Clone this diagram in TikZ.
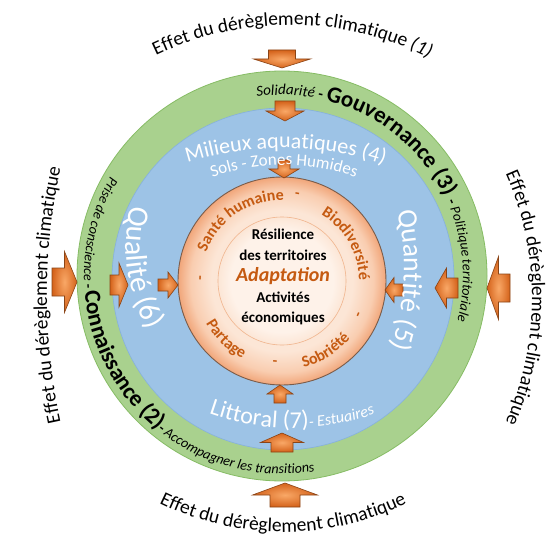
\documentclass[tikz,border=0pt]{standalone}
\usepackage{fontspec}
\setmainfont{Carlito}
\usetikzlibrary{decorations.text, shadings}

\definecolor{ringGreen}{HTML}{A9D18E}
\definecolor{ringGreenLine}{HTML}{86BC64}
\definecolor{ringBlue}{HTML}{9DC3E6}
\definecolor{ringBlueLine}{HTML}{86B1DC}
\definecolor{diskCore}{HTML}{FCE6D6}
\definecolor{diskMid}{HTML}{F9CDB0}
\definecolor{diskRim}{HTML}{F1A67A}
\definecolor{diskLine}{HTML}{7A5C4A}
\definecolor{coreFill}{HTML}{FEF2E9}
\definecolor{coreLine}{HTML}{F0B58E}
\definecolor{textOrange}{HTML}{C55A11}
\definecolor{arrowLight}{HTML}{F9A867}
\definecolor{arrowDark}{HTML}{D4621A}
\definecolor{arrowLine}{HTML}{8A4416}

\pgfdeclareradialshading{diskshade}{\pgfpoint{0bp}{0bp}}{color(0bp)=(diskCore); color(17bp)=(diskCore); color(22bp)=(diskMid); color(25bp)=(diskRim); color(50bp)=(diskRim)}
\pgfdeclareradialshading{coreshade}{\pgfpoint{0bp}{0bp}}{color(0bp)=(coreFill); color(20bp)=(coreFill); color(25bp)=(diskCore); color(50bp)=(diskCore)}

\newcommand{\fsz}[1]{\fontsize{#1}{#1}\selectfont}

\tikzset{
  pics/inarrow/.style args={#1/#2/#3}{code={
    \shade[inner color=arrowLight, outer color=arrowDark, draw=arrowLine, line width=0.6pt]
      (0,0) -- (-#1/2,#2/2) -- (-#1/2,#3/2) -- (-#1,#3/2) -- (-#1,-#3/2)
      -- (-#1/2,-#3/2) -- (-#1/2,-#2/2) -- cycle;
  }}
}

\begin{document}
\begin{tikzpicture}[x=1pt, y=1pt,
    arctext/.style={decorate, decoration={text along path, text align=center, text={#1}}},
    arctextleft/.style={decorate, decoration={text along path, text align=left, text={#1}}},
    dashmark/.style={font=\bfseries\fsz{15}, text=textOrange, inner sep=0pt},
    coretext/.style={font=\bfseries\fsz{15}, anchor=base, inner sep=0pt},
  ]
  \fill[white] (0,0) rectangle (554,539);
  \useasboundingbox (0,0) rectangle (554,539);

  % centres
  \coordinate (cGreen) at (282,263);
  \coordinate (cBlue) at (283,260);
  \coordinate (cDisk) at (282,258);

  % rings and disk
  \filldraw[fill=ringGreen, draw=ringGreenLine, line width=0.8pt] (cGreen) circle[radius=205pt];
  \filldraw[fill=ringBlue, draw=ringBlueLine, line width=0.6pt] (cBlue) circle[radius=171pt];
  \shade[shading=diskshade] (cDisk) circle[radius=104pt];
  \draw[diskLine, line width=0.9pt] (cDisk) circle[radius=104pt];
  \shade[shading=coreshade] (cDisk) circle[radius=64pt];
  \draw[coreLine, line width=0.6pt] (cDisk) circle[radius=64pt];

  % arrows: tip x / tip y (from top) / direction / length / head / body
  \foreach \tx/\ty/\adir/\alen/\awid/\abod [count=\k] in {
      282/68/-90/18/57/27, 285/483/90/24/65/30, 77/282/0/25/61/28, 487/288/180/23/63/28,
      285/121/-90/20/38/20, 128/285/0/18/44/20, 435/288/180/23/40/20, 282/433/90/19/43/22,
      284/178/-90/18/30/12, 178/285/0/20/26/12, 385/290/180/18/25/12, 280/385/90/18/26/12}
    \pic[rotate=\adir] (arr\k) at (\tx,{539-\ty}) {inarrow=\alen/\awid/\abod};

  % outer texts
  \coordinate (cTop) at (290,205);
  \coordinate (cRight) at (226,241);
  \coordinate (cLeft) at (647,244);
  \coordinate (cBottom) at (283,287);
  \path[arctext={|\fsz{19.5}|Effet du dérèglement climatique |\fsz{19.5}\itshape|(1)}]
    ([shift={(135:309pt)}]cTop) arc[start angle=135, end angle=44, radius=309pt];
  \path[arctext={|\fsz{19.5}|Effet du dérèglement climatique}]
    ([shift={(30:306pt)}]cRight) arc[start angle=30, end angle=-30, radius=306pt];
  \path[arctext={|\fsz{19.5}|Effet du dérèglement climatique}]
    ([shift={(195:600pt)}]cLeft) arc[start angle=195, end angle=165, radius=600pt];
  \path[arctext={|\fsz{19.5}|Effet du dérèglement climatique}]
    ([shift={(235:280pt)}]cBottom) arc[start angle=235, end angle=305, radius=280pt];

  % green ring
  \path[arctextleft={|\itshape\fsz{15}|Solidarité |\bfseries\fsz{15}|- |\bfseries\fsz{23}|Gouvernance (3) |\bfseries\fsz{15}|- |\itshape\fsz{14}|Politique territoriale}]
    ([shift={(98:181pt)}]cGreen) arc[start angle=98, end angle=-60, radius=181pt];
  \path[arctextleft={|\itshape\fsz{14}|Prise de conscience |\bfseries\fsz{14}|- |\bfseries\fsz{23}|Connaissance (2)|\bfseries\fsz{14}|- |\itshape\fsz{14}|Accompagner les transitions}]
    ([shift={(150:198pt)}]cGreen) arc[start angle=150, end angle=300, radius=198pt];

  % blue ring
  \coordinate (cMilieux) at (283,76);
  \coordinate (cSols) at (284,157);
  \coordinate (cQuant) at (154,272);
  \coordinate (cQual) at (296,293);
  \coordinate (cLitt) at (292,361);
  \path[arctext={|\color{white}\fsz{22}|Milieux aquatiques (4)}]
    ([shift={(118:315pt)}]cMilieux) arc[start angle=118, end angle=61, radius=315pt];
  \path[arctext={|\color{white}\fsz{17}|Sols - Zones Humides}]
    ([shift={(112:217pt)}]cSols) arc[start angle=112, end angle=68, radius=217pt];
  \path[arctext={|\color{white}\fsz{28}|Quantité (5)}]
    ([shift={(28:250pt)}]cQuant) arc[start angle=28, end angle=-34, radius=250pt];
  \path[arctext={|\color{white}\fsz{30}|Qualité (6)}]
    ([shift={(155:170pt)}]cQual) arc[start angle=155, end angle=221, radius=170pt];
  \path[arctext={|\color{white}\fsz{24}|Littoral (7)|\color{white}\itshape\fsz{16}|- Estuaires}]
    ([shift={(245:250pt)}]cLitt) arc[start angle=245, end angle=295, radius=250pt];

  % disk
  \path[arctext={|\color{textOrange}\bfseries\fsz{16}|Santé humaine}]
    ([shift={(170:81pt)}]cDisk) arc[start angle=170, end angle=78, radius=81pt];
  \path[arctext={|\color{textOrange}\bfseries\fsz{16}|Biodiversité}]
    ([shift={(72:77pt)}]cDisk) arc[start angle=72, end angle=-12, radius=77pt];
  \path[arctext={|\color{textOrange}\bfseries\fsz{16}|Sobriété}]
    ([shift={(262:89pt)}]cDisk) arc[start angle=262, end angle=342, radius=89pt];
  \path[arctext={|\color{textOrange}\bfseries\fsz{16}|Partage}]
    ([shift={(190:87pt)}]cDisk) arc[start angle=190, end angle=262, radius=87pt];
  \node[dashmark, rotate=-10] (dTop) at ([shift={(80:87pt)}]cDisk) {-};
  \node[dashmark, rotate=66] (dRight) at ([shift={(336:85pt)}]cDisk) {-};
  \node[dashmark, rotate=-5] (dBottom) at ([shift={(265:82pt)}]cDisk) {-};
  \node[dashmark, rotate=88] (dLeft) at ([shift={(178:80pt)}]cDisk) {-};

  % centre
  \node[coretext] (res) at (283,299) {Résilience};
  \node[coretext] (terr) at (283,279) {des territoires};
  \node[coretext, text=textOrange, font=\bfseries\itshape\fsz{20}] (adapt) at (283,258) {Adaptation};
  \node[coretext] (act) at (283,237) {Activités};
  \node[coretext] (eco) at (283,217) {économiques};
\end{tikzpicture}
\end{document}
